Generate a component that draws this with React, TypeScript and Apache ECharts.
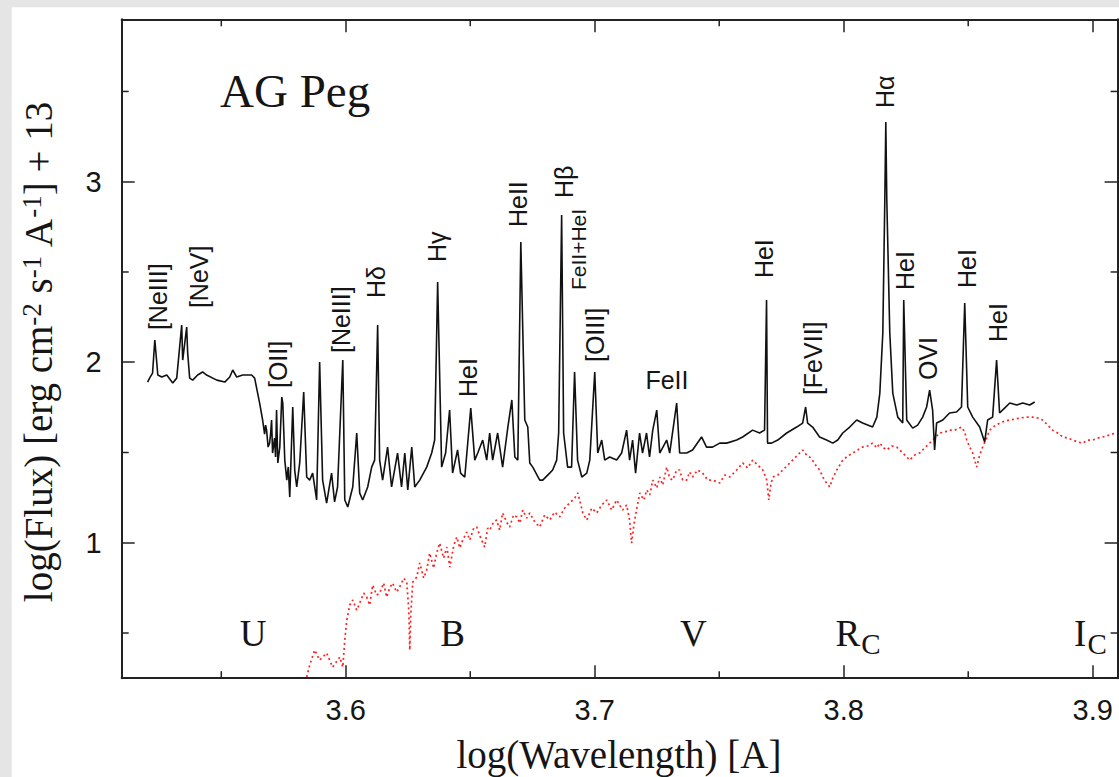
import React, { useEffect, useRef } from 'react';
import * as echarts from 'echarts';

const X_MIN = 3.51;
const X_MAX = 3.91;
const Y_MIN = 0.25;
const Y_MAX = 3.9;
const X_MINOR_TICKS = [3.55, 3.65, 3.75, 3.85];
const Y_MINOR_TICKS = [0.5, 1.5, 2.5, 3.5];

// AG Peg observed spectrum: [log(wavelength), log(flux)+13]
const AGPEG_SPECTRUM: [number, number][] = [
  [3.5204, 1.890], [3.5212, 1.912], [3.5224, 1.940], [3.5233, 2.123], [3.5241, 1.996], [3.5245, 1.929],
  [3.5261, 1.918], [3.5281, 1.929], [3.5305, 1.885], [3.5321, 1.912], [3.5341, 2.206], [3.5345, 2.012],
  [3.5361, 2.195], [3.5365, 2.051], [3.5373, 1.912], [3.5385, 1.901], [3.5405, 1.929], [3.5425, 1.946],
  [3.5441, 1.929], [3.5482, 1.901], [3.5514, 1.890], [3.5534, 1.918], [3.5546, 1.957], [3.5562, 1.918],
  [3.5586, 1.929], [3.5622, 1.929], [3.5634, 1.912], [3.5654, 1.774], [3.5666, 1.680], [3.5674, 1.602],
  [3.5678, 1.652], [3.5682, 1.624], [3.5688, 1.530], [3.5694, 1.552], [3.5698, 1.602], [3.5702, 1.680],
  [3.5706, 1.497], [3.5714, 1.580], [3.5718, 1.475], [3.5722, 1.735], [3.5727, 1.442], [3.5735, 1.530],
  [3.5743, 1.807], [3.5747, 1.774], [3.5755, 1.458], [3.5763, 1.347], [3.5769, 1.420], [3.5775, 1.253],
  [3.5787, 1.752], [3.5795, 1.400], [3.5803, 1.309], [3.5815, 1.442],
  [3.5831, 1.835], [3.5843, 1.364], [3.5855, 1.347], [3.5867, 1.386], [3.5883, 1.237], [3.5895, 2.001],
  [3.5907, 1.347], [3.5923, 1.220], [3.5943, 1.386], [3.5955, 1.226], [3.5967, 1.309], [3.5988, 2.012],
  [3.5996, 1.237], [3.6008, 1.198], [3.6028, 1.309], [3.6044, 1.608], [3.6056, 1.275], [3.6068, 1.237],
  [3.6088, 1.309], [3.6104, 1.419], [3.6116, 1.458], [3.6128, 2.206], [3.6136, 1.458], [3.6148, 1.347],
  [3.6168, 1.530], [3.6184, 1.309], [3.6208, 1.497], [3.6224, 1.309], [3.6237, 1.497], [3.6249, 1.292],
  [3.6265, 1.530], [3.6277, 1.309], [3.6297, 1.347], [3.6325, 1.419], [3.6345, 1.497], [3.6357, 1.569],
  [3.6369, 2.444], [3.6385, 1.419], [3.6401, 1.497], [3.6417, 1.735], [3.6429, 1.386], [3.6449, 1.514],
  [3.6461, 1.386], [3.6478, 1.364], [3.6502, 1.746], [3.6518, 1.458], [3.6530, 1.497], [3.6550, 1.569],
  [3.6566, 1.458], [3.6578, 1.608], [3.6590, 1.458], [3.6610, 1.608], [3.6630, 1.419], [3.6651, 1.641],
  [3.6667, 1.791], [3.6679, 1.475], [3.6691, 1.458], [3.6703, 2.666], [3.6719, 1.680], [3.6731, 1.641],
  [3.6739, 1.442], [3.6751, 1.419], [3.6779, 1.347], [3.6791, 1.347], [3.6819, 1.386], [3.6831, 1.403],
  [3.6847, 1.458], [3.6855, 1.608], [3.6867, 2.816], [3.6875, 1.608], [3.6891, 1.419], [3.6907, 1.419],
  [3.6919, 1.946], [3.6931, 1.458], [3.6948, 1.364], [3.6968, 1.386], [3.6980, 1.458], [3.7000, 1.946],
  [3.7012, 1.497], [3.7028, 1.569], [3.7040, 1.458], [3.7060, 1.475], [3.7088, 1.458], [3.7108, 1.497],
  [3.7128, 1.624], [3.7140, 1.458], [3.7152, 1.569], [3.7164, 1.386], [3.7180, 1.608], [3.7192, 1.497],
  [3.7208, 1.608], [3.7220, 1.475], [3.7233, 1.624], [3.7249, 1.735], [3.7261, 1.497], [3.7289, 1.569],
  [3.7301, 1.497], [3.7329, 1.774], [3.7341, 1.497], [3.7369, 1.497], [3.7393, 1.514], [3.7429, 1.586],
  [3.7449, 1.530], [3.7473, 1.530], [3.7502, 1.552], [3.7530, 1.552], [3.7570, 1.569], [3.7594, 1.586],
  [3.7634, 1.624], [3.7662, 1.608], [3.7682, 1.624], [3.7690, 2.345], [3.7694, 1.552], [3.7710, 1.552],
  [3.7735, 1.569], [3.7771, 1.608], [3.7811, 1.641], [3.7835, 1.663], [3.7847, 1.752], [3.7855, 1.663],
  [3.7875, 1.641], [3.7903, 1.586], [3.7931, 1.569], [3.7956, 1.552], [3.7976, 1.569], [3.7996, 1.608],
  [3.8024, 1.641], [3.8052, 1.680], [3.8076, 1.663], [3.8116, 1.641], [3.8133, 1.696], [3.8145, 1.829],
  [3.8157, 2.162], [3.8165, 2.899], [3.8169, 3.331], [3.8173, 2.899], [3.8185, 2.162], [3.8197, 1.829],
  [3.8217, 1.696], [3.8237, 1.663], [3.8241, 2.345], [3.8253, 1.680], [3.8277, 1.635], [3.8297, 1.652],
  [3.8317, 1.696], [3.8333, 1.752], [3.8345, 1.846], [3.8357, 1.735], [3.8365, 1.514], [3.8373, 1.663],
  [3.8398, 1.680], [3.8425, 1.719], [3.8453, 1.724], [3.8473, 1.752], [3.8486, 2.328], [3.8498, 1.752],
  [3.8518, 1.696], [3.8546, 1.641], [3.8566, 1.558], [3.8578, 1.680], [3.8598, 1.696], [3.8614, 2.012],
  [3.8626, 1.719], [3.8646, 1.746], [3.8667, 1.774], [3.8695, 1.763], [3.8719, 1.774], [3.8747, 1.763],
  [3.8767, 1.780],
];

// Comparison (red, dotted) spectrum
const COMPARISON_SPECTRUM: [number, number][] = [
  [3.5843, 0.256], [3.5855, 0.322], [3.5875, 0.406], [3.5895, 0.350], [3.5923, 0.389], [3.5947, 0.311],
  [3.5976, 0.367], [3.5988, 0.311], [3.5996, 0.461], [3.6004, 0.572], [3.6016, 0.655], [3.6028, 0.683],
  [3.6044, 0.627], [3.6056, 0.666], [3.6072, 0.721], [3.6084, 0.699], [3.6096, 0.655], [3.6108, 0.766],
  [3.6124, 0.710], [3.6136, 0.721], [3.6152, 0.777], [3.6164, 0.699], [3.6176, 0.749], [3.6188, 0.777],
  [3.6204, 0.727], [3.6216, 0.754], [3.6233, 0.804], [3.6245, 0.782], [3.6253, 0.627], [3.6257, 0.406],
  [3.6261, 0.599], [3.6269, 0.782], [3.6285, 0.810], [3.6297, 0.888], [3.6313, 0.804], [3.6325, 0.849],
  [3.6337, 0.943], [3.6353, 0.860], [3.6365, 0.943], [3.6377, 0.998], [3.6393, 0.915], [3.6406, 0.976],
  [3.6418, 0.865], [3.6434, 0.987], [3.6446, 1.032], [3.6458, 0.971], [3.6470, 1.015], [3.6486, 1.059],
  [3.6498, 1.015], [3.6514, 1.081], [3.6526, 1.087], [3.6542, 1.026], [3.6558, 0.976], [3.6570, 1.081],
  [3.6578, 1.070], [3.6594, 1.115], [3.6606, 1.126], [3.6618, 1.070], [3.6630, 1.165], [3.6646, 1.115],
  [3.6658, 1.087], [3.6674, 1.154], [3.6687, 1.143], [3.6699, 1.109], [3.6711, 1.181], [3.6727, 1.137],
  [3.6739, 1.165], [3.6759, 1.115], [3.6779, 1.087], [3.6799, 1.154], [3.6819, 1.126], [3.6839, 1.170],
  [3.6859, 1.143], [3.6879, 1.192], [3.6899, 1.220], [3.6920, 1.248], [3.6932, 1.276], [3.6952, 1.165],
  [3.6968, 1.126], [3.6988, 1.192], [3.7008, 1.165], [3.7028, 1.209], [3.7048, 1.237], [3.7068, 1.181],
  [3.7088, 1.237], [3.7112, 1.181], [3.7128, 1.209], [3.7140, 1.126], [3.7148, 0.998], [3.7157, 1.098],
  [3.7169, 1.192], [3.7181, 1.276], [3.7197, 1.237], [3.7209, 1.292], [3.7221, 1.265], [3.7233, 1.347],
  [3.7249, 1.303], [3.7261, 1.364], [3.7273, 1.320], [3.7289, 1.419], [3.7301, 1.358], [3.7313, 1.347],
  [3.7329, 1.403], [3.7341, 1.403], [3.7353, 1.347], [3.7369, 1.347], [3.7381, 1.392], [3.7393, 1.364],
  [3.7413, 1.403], [3.7433, 1.386], [3.7454, 1.347], [3.7474, 1.347], [3.7502, 1.331], [3.7522, 1.375],
  [3.7542, 1.364], [3.7570, 1.403], [3.7594, 1.442], [3.7614, 1.414], [3.7634, 1.458], [3.7655, 1.430],
  [3.7675, 1.403], [3.7691, 1.347], [3.7699, 1.237], [3.7707, 1.320], [3.7715, 1.364], [3.7735, 1.375],
  [3.7755, 1.403], [3.7775, 1.430], [3.7795, 1.458], [3.7815, 1.486], [3.7835, 1.514], [3.7851, 1.486],
  [3.7863, 1.475], [3.7880, 1.447], [3.7892, 1.419], [3.7904, 1.403], [3.7916, 1.364], [3.7928, 1.336],
  [3.7944, 1.309], [3.7956, 1.358], [3.7972, 1.403], [3.7984, 1.430], [3.7996, 1.458], [3.8016, 1.480],
  [3.8036, 1.497], [3.8056, 1.514], [3.8076, 1.530], [3.8096, 1.536], [3.8116, 1.552], [3.8133, 1.525],
  [3.8145, 1.552], [3.8161, 1.525], [3.8173, 1.514], [3.8193, 1.536], [3.8213, 1.530], [3.8233, 1.503],
  [3.8253, 1.475], [3.8265, 1.458], [3.8285, 1.486], [3.8305, 1.497], [3.8325, 1.525], [3.8345, 1.552],
  [3.8365, 1.580], [3.8385, 1.608], [3.8405, 1.613], [3.8425, 1.624], [3.8446, 1.624], [3.8474, 1.641],
  [3.8486, 1.613], [3.8494, 1.569], [3.8506, 1.530], [3.8518, 1.497], [3.8526, 1.458], [3.8534, 1.419],
  [3.8546, 1.486], [3.8558, 1.530], [3.8574, 1.580], [3.8586, 1.624], [3.8606, 1.647], [3.8626, 1.663],
  [3.8647, 1.674], [3.8667, 1.680], [3.8687, 1.685], [3.8707, 1.691], [3.8735, 1.696], [3.8759, 1.696],
  [3.8779, 1.691], [3.8799, 1.680], [3.8819, 1.652], [3.8839, 1.624], [3.8859, 1.608], [3.8880, 1.586],
  [3.8900, 1.580], [3.8920, 1.569], [3.8940, 1.558], [3.8960, 1.552], [3.8980, 1.569], [3.9000, 1.569],
  [3.9020, 1.580], [3.9040, 1.586], [3.9068, 1.597], [3.9092, 1.608],
];

// Emission line identifications
const LINE_LABELS = ['[NeIII]', '[NeV]', '[OII]', '[NeIII]', 'Hδ', 'Hγ', 'HeI', 'HeII', 'Hβ', 'FeII+HeI',
  '[OIII]', 'FeII', 'HeI', '[FeVII]', 'Hα', 'HeI', 'OVI', 'HeI', 'HeI'];
const LINE_LABEL_X = [3.5244, 3.5409, 3.5726, 3.5981, 3.6122, 3.6367, 3.6491, 3.6692, 3.6877, 3.6933,
  3.7001, 3.7290, 3.7680, 3.7877, 3.8166, 3.8246, 3.8338, 3.8495, 3.8620];
const LINE_LABEL_Y = [2.178, 2.300, 1.857, 2.051, 2.356, 2.555, 1.807, 2.749, 2.910, 2.400,
  2.001, 1.901, 2.466, 1.818, 3.408, 2.400, 1.901, 2.411, 2.112];
const LINE_LABEL_VERTICAL = [true, true, true, true, true, true, true, true, true, true,
  true, false, true, true, true, true, true, true, true];
const LINE_LABEL_SIZE = [25, 25, 25, 25, 25, 25, 25, 25, 25, 21, 25, 25, 25, 25, 25, 25, 25, 25, 25];

// Photometric band labels (x = centre of the main letter)
const BAND_NAMES = ['U', 'B', 'V', 'R', 'I'];
const BAND_SUBSCRIPTS = ['', '', '', 'C', 'C'];
const BAND_X = [3.5628, 3.6429, 3.7396, 3.8017, 3.8950];
const BAND_Y = [0.5, 0.5, 0.5, 0.5, 0.5];

const SANS = '"Liberation Sans", Arial, Helvetica, sans-serif';
const SERIF = '"Liberation Serif", "Times New Roman", Times, serif';
const INK = '#151515';
const FRAME = '#222222';

let measureCtx: CanvasRenderingContext2D | null = null;
function textWidth(text: string, font: string): number {
  if (!measureCtx) measureCtx = document.createElement('canvas').getContext('2d');
  if (!measureCtx) return text.length * 20;
  measureCtx.font = font;
  return measureCtx.measureText(text).width;
}

export default function App() {
  const ref = useRef<HTMLDivElement | null>(null);

  useEffect(() => {
    if (!ref.current) return;
    const chart = echarts.init(ref.current, null, { renderer: 'svg' });

    const axisCommon = {
      type: 'value' as const,
      axisLine: { show: true, onZero: false, lineStyle: { color: FRAME, width: 2 } },
      axisTick: { show: true, inside: true, length: 13, lineStyle: { color: FRAME, width: 1.5 } },
      splitLine: { show: false },
    };

    const bandFont = `37px ${SERIF}`;
    const subFont = `29px ${SERIF}`;

    const option: any = {
      animation: false,
      backgroundColor: '#e5e5e5',
      graphic: {
        elements: [
          { type: 'rect', z: -100, silent: true, shape: { x: 11.7, y: 7.3, width: 1120, height: 780 }, style: { fill: '#ffffff' } },
          {
            type: 'text', z: 10, x: 220, y: 91, silent: true,
            style: { text: 'AG Peg', font: `47px ${SERIF}`, fill: INK, align: 'left', verticalAlign: 'middle' },
          },
          {
            type: 'text', z: 10, x: 619, y: 754, silent: true,
            style: { text: 'log(Wavelength) [A]', font: `39px ${SERIF}`, fill: INK, align: 'center', verticalAlign: 'middle' },
          },
          {
            type: 'text', z: 10, x: 38.7, y: 352, rotation: Math.PI / 2, silent: true,
            style: {
              text: '{m|log(Flux) [erg cm}{s|-2}{m| s}{s|-1}{m| A}{s|-1}{m|] + 13}',
              align: 'center', verticalAlign: 'middle', fill: INK,
              rich: {
                m: { fontSize: 39, fontFamily: SERIF, lineHeight: 40, fill: INK },
                s: { fontSize: 27, fontFamily: SERIF, lineHeight: 4, verticalAlign: 'top', fill: INK },
              },
            },
          },
        ],
      },
      grid: { left: 121.7, top: 19.25, width: 995.9, height: 658.9, containLabel: false, outerBoundsMode: 'none' },
      xAxis: [
        {
          ...axisCommon, position: 'bottom', min: X_MIN, max: X_MAX,
          axisLabel: {
            show: true, showMinLabel: false, showMaxLabel: false, margin: 17,
            fontSize: 29, fontFamily: SANS, color: INK, formatter: (v: number) => v.toFixed(1),
          },
        },
        { ...axisCommon, position: 'top', min: X_MIN, max: X_MAX, axisLabel: { show: false } },
      ],
      yAxis: [
        {
          ...axisCommon, position: 'left', min: Y_MIN, max: Y_MAX,
          axisLabel: {
            show: true, showMinLabel: false, showMaxLabel: false, margin: 20,
            fontSize: 29, fontFamily: SANS, color: INK, formatter: (v: number) => String(v),
          },
        },
        { ...axisCommon, position: 'right', min: Y_MIN, max: Y_MAX, axisLabel: { show: false } },
      ],
      series: [
        {
          name: 'comparison', type: 'line', data: COMPARISON_SPECTRUM, symbol: 'none', showSymbol: false,
          lineStyle: { color: '#ff2222', width: 1.7, type: [2, 3] }, z: 2, silent: true,
        },
        {
          name: 'AG Peg', type: 'line', data: AGPEG_SPECTRUM, symbol: 'none', showSymbol: false,
          lineStyle: { color: '#111111', width: 1.6 }, z: 3, silent: true,
        },
        {
          name: 'xMinorTicks', type: 'custom', silent: true, z: 4,
          data: X_MINOR_TICKS.map((v) => [v, Y_MIN]),
          renderItem: (params: any, api: any) => {
            const v = api.value(0);
            const b = api.coord([v, Y_MIN]);
            const t = api.coord([v, Y_MAX]);
            const st = { stroke: FRAME, lineWidth: 1.5 };
            return {
              type: 'group',
              children: [
                { type: 'line', shape: { x1: b[0], y1: b[1], x2: b[0], y2: b[1] - 7 }, style: st },
                { type: 'line', shape: { x1: t[0], y1: t[1], x2: t[0], y2: t[1] + 7 }, style: st },
              ],
            };
          },
        },
        {
          name: 'yMinorTicks', type: 'custom', silent: true, z: 4,
          data: Y_MINOR_TICKS.map((v) => [X_MIN, v]),
          renderItem: (params: any, api: any) => {
            const v = api.value(1);
            const l = api.coord([X_MIN, v]);
            const r = api.coord([X_MAX, v]);
            const st = { stroke: FRAME, lineWidth: 1.5 };
            return {
              type: 'group',
              children: [
                { type: 'line', shape: { x1: l[0], y1: l[1], x2: l[0] + 7, y2: l[1] }, style: st },
                { type: 'line', shape: { x1: r[0], y1: r[1], x2: r[0] - 7, y2: r[1] }, style: st },
              ],
            };
          },
        },
        {
          name: 'lineLabels', type: 'custom', silent: true, z: 5,
          data: LINE_LABELS.map((_, i) => [LINE_LABEL_X[i], LINE_LABEL_Y[i]]),
          renderItem: (params: any, api: any) => {
            const i = params.dataIndex;
            const p = api.coord([api.value(0), api.value(1)]);
            const vertical = LINE_LABEL_VERTICAL[i];
            return {
              type: 'text',
              x: p[0], y: p[1],
              rotation: vertical ? Math.PI / 2 : 0,
              style: {
                text: LINE_LABELS[i],
                font: `${LINE_LABEL_SIZE[i]}px ${SANS}`,
                fill: INK,
                align: vertical ? 'left' : 'center',
                verticalAlign: 'middle',
              },
            };
          },
        },
        {
          name: 'bandLabels', type: 'custom', silent: true, z: 5,
          data: BAND_NAMES.map((_, i) => [BAND_X[i], BAND_Y[i]]),
          renderItem: (params: any, api: any) => {
            const i = params.dataIndex;
            const p = api.coord([api.value(0), api.value(1)]);
            const sub = BAND_SUBSCRIPTS[i];
            const children: any[] = [
              {
                type: 'text', x: p[0], y: p[1],
                style: { text: BAND_NAMES[i], font: bandFont, fill: INK, align: 'center', verticalAlign: 'middle' },
              },
            ];
            if (sub) {
              const half = textWidth(BAND_NAMES[i], bandFont) / 2;
              children.push({
                type: 'text', x: p[0] + half + 1, y: p[1] + 11,
                style: { text: sub, font: subFont, fill: INK, align: 'left', verticalAlign: 'middle' },
              });
            }
            return { type: 'group', children };
          },
        },
      ],
    };

    chart.setOption(option);
    return () => chart.dispose();
  }, []);

  return <div ref={ref} style={{ position: 'fixed', left: 0, top: 0, width: 1119, height: 777 }} />;
}
